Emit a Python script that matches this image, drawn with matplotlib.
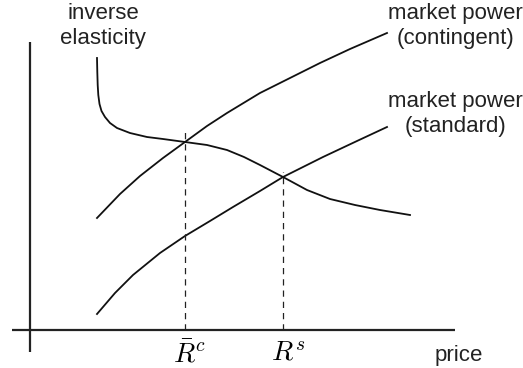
import matplotlib.pyplot as plt

plt.rcParams['font.family'] = ['Liberation Sans', 'DejaVu Sans']
plt.rcParams['mathtext.fontset'] = 'cm'

# curve points (price, level)
inv_x = [67, 67.3, 67.7, 68.3, 69.5, 71.5, 75, 80, 87, 100, 117, 133, 155, 177, 197, 214, 230, 253, 277, 300, 325, 350, 380]
inv_y = [272, 258, 245, 235, 226, 219, 213, 207, 202, 197, 193, 191, 188, 185, 180, 173, 165, 153, 140, 131, 125, 120, 115]

cont_x = [67, 90, 110, 133, 155, 177, 197, 230, 260, 290, 320, 357]
cont_y = [112, 136, 154, 172, 188, 204, 217, 237, 252, 267, 281, 297]

std_x = [67, 85, 103, 130, 155, 180, 203, 230, 253, 293, 327, 357]
std_y = [16, 37, 55, 77, 94, 109, 123, 139, 153, 173, 189, 203]

# equilibrium prices and the heights where the dashed lines stop
r_c, r_c_top = 155, 202
r_s, r_s_top = 253, 158
price_labels = [r'$\bar{R}^c$', r'$R^s$']

fig = plt.figure(figsize=(5.23, 3.68), dpi=100)
ax = fig.add_axes([0, 0, 1, 1])
ax.set_xlim(-30, 493)
ax.set_ylim(-38, 330)
ax.axis('off')

# axes
ax.plot([-18, 425], [0, 0], color='#222222', lw=1.6, solid_capstyle='butt')
ax.plot([0, 0], [-22, 288], color='#222222', lw=1.6, solid_capstyle='butt')

ax.plot(inv_x, inv_y, color='#111111', lw=1.3)
ax.plot(cont_x, cont_y, color='#111111', lw=1.3)
ax.plot(std_x, std_y, color='#111111', lw=1.3)

ax.plot([r_c, r_c], [0, r_c_top], color='#222222', lw=0.9, dashes=(5, 4))
ax.plot([r_s, r_s], [0, r_s_top], color='#222222', lw=0.9, dashes=(5, 4))

ax.text(r_c + 4, -11, price_labels[0], fontsize=20, ha='center', va='top')
ax.text(r_s + 5, -11, price_labels[1], fontsize=20, ha='center', va='top')
ax.text(429, -25, 'price', fontsize=16, ha='center', va='center', color='#222222')

ax.text(73, 327, 'inverse\nelasticity', fontsize=16, ha='center', va='top',
        linespacing=1.22, color='#222222')
ax.text(455 - 30, 327, 'market power\n(contingent)', fontsize=16, ha='center', va='top',
        linespacing=1.22, color='#222222')
ax.text(455 - 30, 239, 'market power\n(standard)', fontsize=16, ha='center', va='top',
        linespacing=1.22, color='#222222')

fig.savefig('out.png', dpi=100)
